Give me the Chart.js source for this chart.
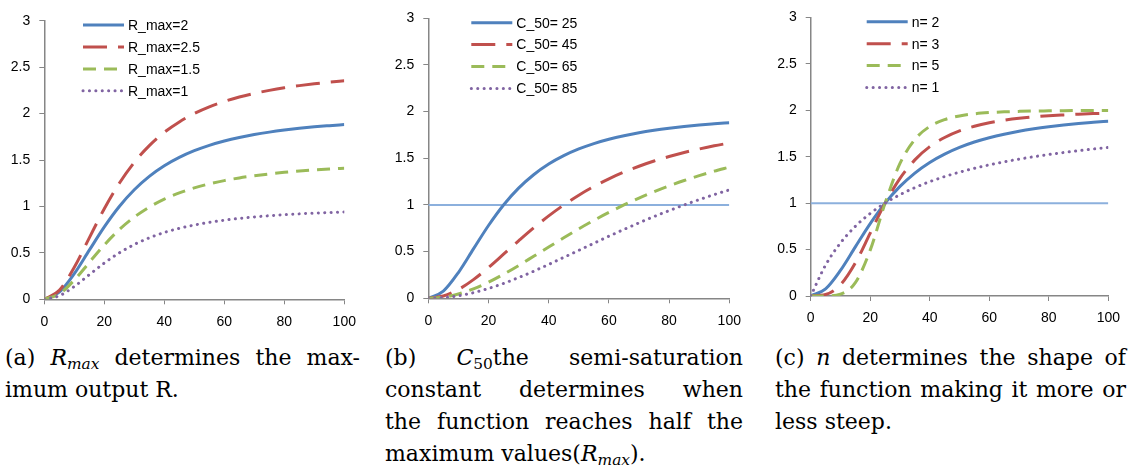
<!DOCTYPE html>
<html>
<head>
<meta charset="utf-8">
<script src="https://cdn.jsdelivr.net/npm/chart.js@4"></script>
<style>
    html, body { margin: 0; padding: 0; background: #fff; }
    body { width: 1129px; height: 467px; position: relative; overflow: hidden; }
    canvas { position: absolute; top: 0; }
    .cap {
        position: absolute;
        top: 342px;
        font-family: "DejaVu Serif", "Liberation Serif", serif;
        font-size: 22px;
        line-height: 32px;
        color: #000;
    }
    .cap div { white-space: nowrap; }
    .cap .j { text-align: justify; text-align-last: justify; white-space: normal; }
    .cap sub { font-size: 70%; line-height: 0; vertical-align: -0.25em; }
</style>
</head>
<body>
<canvas id="chartA" width="375" height="335" style="left:0px"></canvas>
<canvas id="chartB" width="375" height="335" style="left:384px"></canvas>
<canvas id="chartC" width="363" height="335" style="left:766px"></canvas>

<div class="cap" style="left:5px; width:355px">
    <div class="j">(a) <i>R<sub>max</sub></i> determines the max-</div>
    <div>imum output R.</div>
</div>
<div class="cap" style="left:385px; width:358px">
    <div class="j">(b) <i>C</i><sub>50</sub>the semi-saturation</div>
    <div class="j">constant determines when</div>
    <div class="j">the function reaches half the</div>
    <div>maximum values(<i>R<sub>max</sub></i>).</div>
</div>
<div class="cap" style="left:775px; width:351px">
    <div class="j">(c) <i>n</i> determines the shape of</div>
    <div class="j">the function making it more or</div>
    <div>less steep.</div>
</div>

<script>
// ---------------- DATA ----------------
const xValues = [0, 5, 10, 15, 20, 25, 30, 35, 40, 45, 50, 55, 60, 65, 70, 75, 80, 85, 90, 95, 100];
const xTickLabels = ["0", "20", "40", "60", "80", "100"];
const yTickLabels = ["0", "0.5", "1", "1.5", "2", "2.5", "3"];

// panel (a)
const rmaxLabels = ["R_max=2", "R_max=2.5", "R_max=1.5", "R_max=1"];
const rmax2   = [0, 0.077, 0.276, 0.529, 0.780, 1.0, 1.180, 1.324, 1.438, 1.528, 1.600, 1.658, 1.704, 1.742, 1.774, 1.800, 1.822, 1.841, 1.857, 1.870, 1.882];
const rmax2_5 = [0, 0.096, 0.345, 0.662, 0.976, 1.25, 1.475, 1.655, 1.798, 1.910, 2.000, 2.072, 2.130, 2.178, 2.217, 2.250, 2.278, 2.301, 2.321, 2.338, 2.353];
const rmax1_5 = [0, 0.058, 0.207, 0.397, 0.585, 0.75, 0.885, 0.993, 1.079, 1.146, 1.200, 1.243, 1.278, 1.307, 1.330, 1.350, 1.367, 1.381, 1.393, 1.403, 1.412];
const rmax1   = [0, 0.038, 0.138, 0.265, 0.390, 0.50, 0.590, 0.662, 0.719, 0.764, 0.800, 0.829, 0.852, 0.871, 0.887, 0.900, 0.911, 0.920, 0.928, 0.935, 0.941];

// panel (b)
const c50Labels = ["C_50= 25", "C_50= 45", "C_50= 65", "C_50= 85"];
const c50_25 = [0, 0.077, 0.276, 0.529, 0.780, 1.000, 1.180, 1.324, 1.438, 1.528, 1.600, 1.658, 1.704, 1.742, 1.774, 1.800, 1.822, 1.841, 1.857, 1.870, 1.882];
const c50_45 = [0, 0.024, 0.094, 0.200, 0.330, 0.472, 0.615, 0.754, 0.883, 1.000, 1.105, 1.198, 1.280, 1.352, 1.415, 1.471, 1.519, 1.562, 1.600, 1.634, 1.663];
const c50_65 = [0, 0.012, 0.046, 0.101, 0.173, 0.258, 0.351, 0.450, 0.549, 0.648, 0.744, 0.835, 0.920, 1.000, 1.074, 1.142, 1.205, 1.262, 1.314, 1.362, 1.406];
const c50_85 = [0, 0.007, 0.027, 0.060, 0.105, 0.159, 0.222, 0.290, 0.363, 0.438, 0.514, 0.590, 0.665, 0.738, 0.808, 0.876, 0.939, 1.000, 1.057, 1.111, 1.161];

// panel (c)
const nLabels = ["n= 2", "n= 3", "n= 5", "n= 1"];
const n2 = [0, 0.077, 0.276, 0.529, 0.780, 1.000, 1.180, 1.324, 1.438, 1.528, 1.600, 1.658, 1.704, 1.742, 1.774, 1.800, 1.822, 1.841, 1.857, 1.870, 1.882];
const n3 = [0, 0.016, 0.120, 0.355, 0.677, 1.000, 1.267, 1.466, 1.608, 1.707, 1.778, 1.828, 1.865, 1.892, 1.913, 1.929, 1.941, 1.950, 1.958, 1.964, 1.969];
const n5 = [0, 0.001, 0.020, 0.144, 0.494, 1.000, 1.427, 1.686, 1.826, 1.899, 1.939, 1.962, 1.975, 1.983, 1.988, 1.992, 1.994, 1.996, 1.997, 1.998, 1.998];
const n1 = [0, 0.333, 0.571, 0.750, 0.889, 1.000, 1.091, 1.167, 1.231, 1.286, 1.333, 1.375, 1.412, 1.444, 1.474, 1.500, 1.524, 1.545, 1.565, 1.583, 1.600];

// reference line at R = 1 (panels b and c)
const refX = [0, 100];
const refY = [1, 1];

// ---------------- STYLE ----------------
const FONT = "'Liberation Sans', Arial, sans-serif";
const AXIS_GRAY = "#868686";
const seriesStyles = [
    { color: "#4f81bd", dash: [], cap: "butt" },
    { color: "#c0504d", dash: [24, 11], cap: "butt" },
    { color: "#9bbb59", dash: [13, 8], cap: "butt" },
    { color: "#8064a2", dash: [0.1, 6.3], cap: "round" }
];

function points(xs, ys) {
    return xs.map((x, i) => ({ x: x, y: ys[i] }));
}

function makeDatasets(labels, series, withRef) {
    const sets = series.map((ys, i) => ({
        label: labels[i],
        data: points(xValues, ys),
        borderColor: seriesStyles[i].color,
        borderDash: seriesStyles[i].dash,
        borderCapStyle: seriesStyles[i].cap,
        borderWidth: 3,
        order: 4 - i,
        fill: false
    }));
    if (withRef) {
        sets.push({
            label: "",
            data: points(refX, refY),
            borderColor: "#8cb0dd",
            borderWidth: 2,
            order: 10,
            isRef: true
        });
    }
    return sets;
}

// ---------------- LEGEND PLUGIN ----------------
const insideLegend = {
    id: "insideLegend",
    afterDatasetsDraw(chart, args, opts) {
        const ctx = chart.ctx;
        const area = chart.chartArea;
        ctx.save();
        chart.data.datasets.forEach((ds, i) => {
            if (ds.isRef) return;
            const y = area.top + 4.4 + i * 21.9;
            const x0 = area.left + opts.offset;
            ctx.beginPath();
            ctx.strokeStyle = ds.borderColor;
            ctx.lineWidth = ds.borderWidth;
            ctx.lineCap = ds.borderCapStyle;
            ctx.setLineDash(ds.borderDash);
            ctx.moveTo(x0, y);
            ctx.lineTo(x0 + 41, y);
            ctx.stroke();
            ctx.setLineDash([]);
            ctx.fillStyle = "#000";
            ctx.font = "14px " + FONT;
            ctx.textBaseline = "middle";
            ctx.textAlign = "left";
            ctx.fillText(ds.label, x0 + 45, y + 1);
        });
        ctx.restore();
    }
};

// ---------------- CHARTS ----------------
function makeChart(id, datasets, box) {
    return new Chart(document.getElementById(id), {
        type: "line",
        data: { datasets: datasets },
        plugins: [insideLegend],
        options: {
            responsive: false,
            animation: false,
            layout: { padding: { top: box.top, right: box.right, left: 0, bottom: 0 } },
            elements: {
                point: { radius: 0 },
                line: { cubicInterpolationMode: "monotone" }
            },
            plugins: {
                legend: { display: false },
                tooltip: { enabled: false },
                insideLegend: { offset: box.legendX }
            },
            scales: {
                x: {
                    type: "linear",
                    min: 0,
                    max: 100,
                    ticks: {
                        stepSize: 20,
                        maxRotation: 0,
                        padding: 9,
                        color: "#000",
                        font: { family: FONT, size: 14 },
                        callback: (v, i) => xTickLabels[i]
                    },
                    grid: { drawOnChartArea: false, tickLength: 5, color: AXIS_GRAY },
                    border: { color: AXIS_GRAY, width: 1.5 },
                    afterFit: s => { s.height = box.xh; }
                },
                y: {
                    min: 0,
                    max: 3,
                    ticks: {
                        stepSize: 0.5,
                        padding: 9,
                        color: "#000",
                        font: { family: FONT, size: 14 },
                        callback: (v, i) => yTickLabels[i]
                    },
                    grid: { drawOnChartArea: false, tickLength: 5, color: AXIS_GRAY },
                    border: { color: AXIS_GRAY, width: 1.5 },
                    afterFit: s => { s.width = box.yw; }
                }
            }
        }
    });
}

makeChart("chartA",
    makeDatasets(rmaxLabels, [rmax2, rmax2_5, rmax1_5, rmax1], false),
    { top: 20.7, right: 30.7, xh: 35.7, yw: 44.3, legendX: 38.7 });

makeChart("chartB",
    makeDatasets(c50Labels, [c50_25, c50_45, c50_65, c50_85], true),
    { top: 18.3, right: 29.7, xh: 36.7, yw: 44.3, legendX: 43 });

makeChart("chartC",
    makeDatasets(nLabels, [n2, n3, n5, n1], true),
    { top: 17.3, right: 19, xh: 39, yw: 44.7, legendX: 56 });
</script>
</body>
</html>
